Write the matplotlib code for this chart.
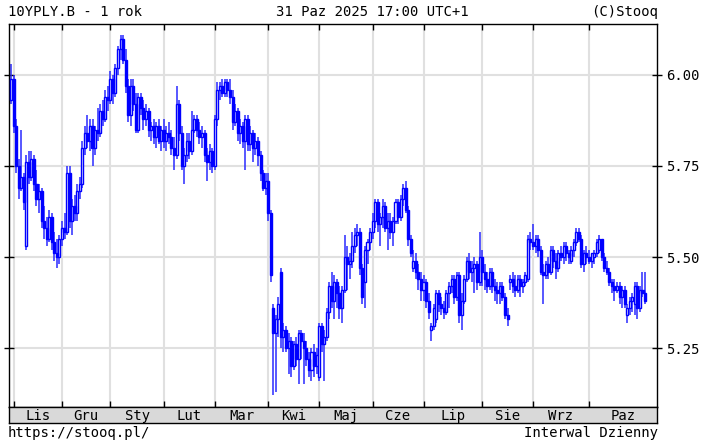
import matplotlib
matplotlib.use("Agg")
import matplotlib.pyplot as plt
import numpy as np
import pandas as pd

# dni bez notowan (PL)
holidays = ["2024-11-01", "2024-11-11", "2024-12-24", "2024-12-25", "2024-12-26",
            "2025-01-01", "2025-01-06", "2025-04-18", "2025-04-21", "2025-05-01",
            "2025-06-19", "2025-08-15"]
month_labels = ["Lis", "Gru", "Sty", "Lut", "Mar", "Kwi", "Maj", "Cze", "Lip", "Sie", "Wrz", "Paz"]
yticks = [5.25, 5.50, 5.75, 6.00]
ylabels = ["5.25", "5.50", "5.75", "6.00"]

# OHLC, one line per month (Oct 31 + Nov, Dec, ... Oct)
opens = [
    5.93, 5.99, 5.86, 5.75, 5.69, 5.72, 5.53, 5.76, 5.72, 5.77, 5.70, 5.66, 5.68, 5.60, 5.58, 5.55, 5.61, 5.54, 5.51, 5.50,
    5.55, 5.58, 5.57, 5.73, 5.60, 5.64, 5.62, 5.68, 5.70, 5.80, 5.84, 5.82, 5.86, 5.80, 5.85, 5.84, 5.90, 5.88, 5.94,
    5.93, 5.99, 5.95, 6.02, 6.07, 6.10, 6.04, 5.97, 5.89, 5.97, 5.92, 5.85, 5.94, 5.91, 5.88, 5.90, 5.85, 5.86, 5.83, 5.86, 5.82,
    5.85, 5.82, 5.84, 5.83, 5.80, 5.78, 5.92, 5.84, 5.75, 5.78, 5.82, 5.79, 5.85, 5.88, 5.85, 5.83, 5.84, 5.78, 5.76, 5.79,
    5.75, 5.88, 5.96, 5.97, 5.95, 5.98, 5.96, 5.94, 5.87, 5.90, 5.84, 5.86, 5.82, 5.88, 5.81, 5.84, 5.80, 5.82, 5.78, 5.73, 5.69,
    5.71, 5.62, 5.36, 5.29, 5.33, 5.46, 5.28, 5.30, 5.25, 5.27, 5.20, 5.26, 5.22, 5.29, 5.27, 5.25, 5.22, 5.19, 5.24, 5.20,
    5.17, 5.31, 5.26, 5.28, 5.35, 5.42, 5.38, 5.43, 5.40, 5.36, 5.41, 5.50, 5.48, 5.49, 5.53, 5.56, 5.57, 5.47, 5.43, 5.52, 5.54,
    5.57, 5.60, 5.65, 5.59, 5.61, 5.64, 5.58, 5.60, 5.57, 5.60, 5.65, 5.61, 5.66, 5.69, 5.63, 5.55, 5.47, 5.49, 5.46, 5.44,
    5.41, 5.43, 5.38, 5.30, 5.31, 5.33, 5.40, 5.37, 5.36, 5.35, 5.40, 5.42, 5.44, 5.39, 5.45, 5.34, 5.38, 5.44, 5.49, 5.46, 5.47, 5.48, 5.43,
    5.50, 5.46, 5.44, 5.42, 5.46, 5.42, 5.41, 5.40, 5.42, 5.39, 5.34, 5.43, 5.44, 5.42, 5.41, 5.44, 5.42, 5.43, 5.44, 5.55,
    5.54, 5.53, 5.55, 5.52, 5.46, 5.45, 5.48, 5.46, 5.52, 5.49, 5.47, 5.51, 5.50, 5.53, 5.51, 5.49, 5.52, 5.54, 5.57, 5.55, 5.48, 5.51,
    5.50, 5.49, 5.50, 5.51, 5.52, 5.55, 5.50, 5.47, 5.46, 5.43, 5.42, 5.41, 5.42, 5.39, 5.41, 5.34, 5.36, 5.38, 5.37, 5.42, 5.36, 5.41, 5.40,
]
highs = [
    6.03, 6.00, 5.88, 5.77, 5.85, 5.73, 5.78, 5.79, 5.79, 5.78, 5.74, 5.70, 5.69, 5.64, 5.61, 5.63, 5.62, 5.57, 5.55, 5.56,
    5.60, 5.62, 5.75, 5.75, 5.66, 5.67, 5.70, 5.72, 5.82, 5.86, 5.89, 5.88, 5.88, 5.86, 5.91, 5.92, 5.93, 5.96, 5.97,
    6.01, 6.00, 6.03, 6.08, 6.11, 6.11, 6.07, 5.99, 5.99, 5.99, 5.95, 5.95, 5.95, 5.93, 5.92, 5.91, 5.87, 5.88, 5.87, 5.88, 5.86,
    5.88, 5.86, 5.87, 5.85, 5.83, 5.97, 5.93, 5.86, 5.80, 5.84, 5.84, 5.90, 5.89, 5.89, 5.87, 5.86, 5.85, 5.80, 5.81, 5.80,
    5.89, 5.98, 5.98, 5.99, 5.99, 5.99, 5.99, 5.96, 5.92, 5.91, 5.88, 5.87, 5.89, 5.89, 5.86, 5.85, 5.84, 5.83, 5.79, 5.74, 5.73,
    5.73, 5.63, 5.37, 5.34, 5.39, 5.47, 5.32, 5.31, 5.29, 5.28, 5.27, 5.28, 5.30, 5.30, 5.29, 5.27, 5.24, 5.25, 5.26, 5.25,
    5.32, 5.32, 5.30, 5.36, 5.43, 5.46, 5.45, 5.44, 5.42, 5.42, 5.56, 5.53, 5.51, 5.57, 5.58, 5.59, 5.58, 5.48, 5.53, 5.55, 5.58,
    5.62, 5.66, 5.66, 5.62, 5.66, 5.65, 5.62, 5.62, 5.61, 5.66, 5.66, 5.67, 5.70, 5.71, 5.64, 5.56, 5.52, 5.51, 5.48, 5.46,
    5.45, 5.44, 5.40, 5.32, 5.37, 5.41, 5.41, 5.39, 5.38, 5.41, 5.43, 5.45, 5.45, 5.46, 5.46, 5.40, 5.45, 5.50, 5.51, 5.49, 5.50, 5.49, 5.57,
    5.52, 5.48, 5.46, 5.47, 5.47, 5.44, 5.43, 5.43, 5.43, 5.40, 5.36, 5.45, 5.46, 5.45, 5.45, 5.45, 5.44, 5.46, 5.56, 5.57,
    5.59, 5.56, 5.56, 5.53, 5.48, 5.49, 5.50, 5.53, 5.53, 5.51, 5.52, 5.53, 5.54, 5.54, 5.52, 5.53, 5.55, 5.58, 5.58, 5.56, 5.52, 5.53,
    5.52, 5.51, 5.52, 5.55, 5.56, 5.55, 5.51, 5.49, 5.47, 5.44, 5.44, 5.43, 5.43, 5.42, 5.42, 5.37, 5.39, 5.40, 5.43, 5.43, 5.42, 5.46, 5.46,
]
lows = [
    5.92, 5.84, 5.73, 5.66, 5.68, 5.63, 5.52, 5.70, 5.71, 5.68, 5.64, 5.62, 5.58, 5.55, 5.53, 5.54, 5.52, 5.49, 5.47, 5.48,
    5.53, 5.55, 5.56, 5.58, 5.56, 5.60, 5.60, 5.66, 5.69, 5.78, 5.80, 5.79, 5.75, 5.78, 5.82, 5.83, 5.86, 5.87, 5.90,
    5.92, 5.92, 5.94, 6.00, 6.04, 6.03, 5.95, 5.87, 5.86, 5.90, 5.84, 5.84, 5.89, 5.85, 5.86, 5.83, 5.82, 5.81, 5.80, 5.81, 5.79,
    5.80, 5.79, 5.81, 5.78, 5.74, 5.77, 5.82, 5.74, 5.70, 5.76, 5.77, 5.78, 5.84, 5.83, 5.81, 5.80, 5.76, 5.71, 5.74, 5.73,
    5.74, 5.86, 5.93, 5.94, 5.94, 5.94, 5.92, 5.85, 5.86, 5.82, 5.81, 5.80, 5.74, 5.79, 5.79, 5.76, 5.78, 5.75, 5.71, 5.68, 5.67,
    5.60, 5.43, 5.12, 5.13, 5.28, 5.25, 5.24, 5.24, 5.18, 5.17, 5.19, 5.20, 5.15, 5.22, 5.15, 5.20, 5.17, 5.16, 5.17, 5.18,
    5.16, 5.24, 5.16, 5.27, 5.33, 5.36, 5.33, 5.36, 5.33, 5.32, 5.40, 5.41, 5.44, 5.47, 5.51, 5.53, 5.45, 5.37, 5.36, 5.48, 5.52,
    5.55, 5.58, 5.57, 5.53, 5.58, 5.57, 5.52, 5.55, 5.53, 5.59, 5.59, 5.60, 5.64, 5.62, 5.53, 5.50, 5.46, 5.44, 5.41, 5.38,
    5.38, 5.36, 5.33, 5.27, 5.30, 5.32, 5.35, 5.34, 5.33, 5.34, 5.36, 5.40, 5.37, 5.38, 5.32, 5.30, 5.37, 5.43, 5.44, 5.43, 5.40, 5.41, 5.42,
    5.42, 5.41, 5.40, 5.41, 5.40, 5.38, 5.37, 5.37, 5.38, 5.33, 5.31, 5.41, 5.40, 5.39, 5.40, 5.39, 5.40, 5.42, 5.43, 5.52,
    5.52, 5.51, 5.50, 5.45, 5.37, 5.44, 5.44, 5.45, 5.47, 5.44, 5.46, 5.49, 5.48, 5.49, 5.48, 5.48, 5.50, 5.53, 5.54, 5.47, 5.46, 5.48,
    5.48, 5.47, 5.48, 5.50, 5.51, 5.49, 5.46, 5.45, 5.42, 5.40, 5.38, 5.40, 5.37, 5.36, 5.36, 5.32, 5.34, 5.35, 5.34, 5.33, 5.35, 5.39, 5.37,
]
closes = [
    5.99, 5.86, 5.75, 5.69, 5.72, 5.65, 5.76, 5.72, 5.77, 5.70, 5.66, 5.68, 5.60, 5.58, 5.55, 5.61, 5.54, 5.51, 5.50, 5.55,
    5.58, 5.57, 5.73, 5.60, 5.64, 5.62, 5.68, 5.70, 5.80, 5.84, 5.82, 5.86, 5.80, 5.85, 5.84, 5.90, 5.88, 5.94, 5.93,
    5.99, 5.95, 6.02, 6.07, 6.10, 6.04, 5.97, 5.89, 5.97, 5.92, 5.85, 5.94, 5.91, 5.88, 5.90, 5.85, 5.86, 5.83, 5.86, 5.82, 5.85,
    5.82, 5.84, 5.83, 5.80, 5.78, 5.92, 5.84, 5.75, 5.78, 5.82, 5.79, 5.85, 5.88, 5.85, 5.83, 5.84, 5.78, 5.76, 5.79, 5.75,
    5.88, 5.96, 5.97, 5.95, 5.98, 5.96, 5.94, 5.87, 5.90, 5.84, 5.86, 5.82, 5.88, 5.81, 5.84, 5.80, 5.82, 5.78, 5.73, 5.69, 5.71,
    5.62, 5.45, 5.29, 5.33, 5.37, 5.28, 5.30, 5.25, 5.27, 5.20, 5.26, 5.22, 5.29, 5.27, 5.25, 5.22, 5.19, 5.24, 5.20, 5.23,
    5.31, 5.26, 5.28, 5.35, 5.42, 5.38, 5.43, 5.40, 5.36, 5.41, 5.50, 5.48, 5.49, 5.53, 5.56, 5.57, 5.47, 5.39, 5.52, 5.54, 5.57,
    5.60, 5.65, 5.59, 5.61, 5.64, 5.58, 5.60, 5.57, 5.60, 5.65, 5.61, 5.66, 5.69, 5.63, 5.55, 5.51, 5.49, 5.46, 5.44, 5.41,
    5.43, 5.38, 5.35, 5.31, 5.36, 5.40, 5.37, 5.36, 5.35, 5.40, 5.42, 5.44, 5.39, 5.45, 5.34, 5.38, 5.44, 5.49, 5.46, 5.47, 5.48, 5.43, 5.50,
    5.46, 5.44, 5.42, 5.46, 5.42, 5.41, 5.40, 5.42, 5.39, 5.34, 5.33, 5.44, 5.42, 5.41, 5.44, 5.42, 5.43, 5.45, 5.55, 5.54,
    5.53, 5.55, 5.52, 5.46, 5.45, 5.48, 5.46, 5.52, 5.49, 5.47, 5.51, 5.50, 5.53, 5.51, 5.50, 5.52, 5.54, 5.57, 5.55, 5.48, 5.51, 5.50,
    5.49, 5.51, 5.51, 5.54, 5.55, 5.50, 5.47, 5.46, 5.43, 5.42, 5.41, 5.42, 5.39, 5.41, 5.37, 5.36, 5.38, 5.39, 5.42, 5.36, 5.41, 5.40, 5.38,
]

dates = pd.bdate_range("2024-10-31", "2025-10-31")
dates = dates[~dates.isin(pd.to_datetime(holidays))]
n = min(len(dates), len(closes))
dates = dates[:n]
o = np.array(opens[:n]); h = np.array(highs[:n]); l = np.array(lows[:n]); c = np.array(closes[:n])
x = np.arange(n)

month_starts = [i for i in range(1, n) if dates[i].month != dates[i - 1].month]

W, H = 702, 441
fig = plt.figure(figsize=(W / 100, H / 100), dpi=100)
mono = "DejaVu Sans Mono"
BLUE = "#0000ff"

x0, x1 = -0.8, n + 3.7
ax = fig.add_axes([9 / W, (H - 407) / H, 648 / W, 383 / H])
ax.set_xlim(x0, x1)
ax.set_ylim(5.088, 6.140)

for m in month_starts:
    ax.axvline(m, color="#e0e0e0", lw=1.5, zorder=0)
for t in yticks:
    ax.axhline(t, color="#e0e0e0", lw=1.5, zorder=0)

ax.vlines(x, l, h, color="#2a2aff", lw=1.1, zorder=2)
up = c >= o
ax.bar(x[up], (c - o)[up], bottom=o[up], width=0.8, facecolor="white",
       edgecolor=BLUE, lw=1.0, zorder=3)
ax.bar(x[~up], (o - c)[~up], bottom=c[~up], width=0.8, facecolor=BLUE,
       edgecolor=BLUE, lw=1.0, zorder=3)

ax.set_xticks(month_starts)
ax.tick_params(axis="x", direction="in", top=True, bottom=True, length=4,
               width=1, labelbottom=False)
ax.yaxis.tick_right()
ax.set_yticks(yticks)
ax.set_yticklabels(ylabels, fontfamily=mono, fontsize=10)
ax.tick_params(axis="y", direction="inout", left=True, right=True, length=7,
               width=1, pad=3)
for s in ax.spines.values():
    s.set_color("black")
    s.set_linewidth(1)

# month band
axb = fig.add_axes([9 / W, (H - 423) / H, 648 / W, 16 / H])
axb.set_facecolor("#d9d9d9")
axb.set_xlim(x0, x1)
axb.set_ylim(0, 1)
axb.set_xticks([]); axb.set_yticks([])
for s in axb.spines.values():
    s.set_color("black")
    s.set_linewidth(1)
bounds = month_starts + [x1]
for i, lab in enumerate(month_labels):
    axb.text((bounds[i] + bounds[i + 1]) / 2, 0.45, lab, ha="center", va="center",
             fontfamily=mono, fontsize=10)

fig.text(8 / W, 1 - 12 / H, "10YPLY.B - 1 rok", ha="left", va="center", fontfamily=mono, fontsize=10)
fig.text(372 / W, 1 - 12 / H, "31 Paz 2025 17:00 UTC+1", ha="center", va="center", fontfamily=mono, fontsize=10)
fig.text(658 / W, 1 - 12 / H, "(C)Stooq", ha="right", va="center", fontfamily=mono, fontsize=10)
fig.text(8 / W, 1 - 433 / H, "https://stooq.pl/", ha="left", va="center", fontfamily=mono, fontsize=10)
fig.text(658 / W, 1 - 433 / H, "Interwal Dzienny", ha="right", va="center", fontfamily=mono, fontsize=10)

fig.savefig("out.png", dpi=100)
